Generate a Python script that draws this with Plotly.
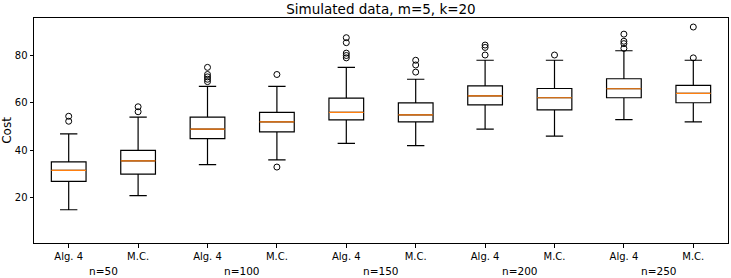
import plotly.graph_objects as go

labels = ["Alg. 4", "M.C."] * 5
groups = ["n=50", "n=100", "n=150", "n=200", "n=250"]
positions = [1, 2, 3, 4, 5, 6, 7, 8, 9, 10]
lower_whisker = [15, 21, 34, 36, 43, 42, 49, 46, 53, 52]
q1 = [27, 30, 45, 47.8, 52.9, 52, 59.2, 57.1, 62.2, 60.1]
median = [31.6, 35.6, 49, 52, 56, 55, 63, 62.2, 66, 64]
q3 = [35.2, 40, 54, 56, 62, 60, 67.2, 66.1, 70.2, 67.4]
upper_whisker = [47, 54, 67, 67, 75, 70, 78, 78, 82, 78]
outliers = [
    [52.3, 54.4],
    [56.3, 58.4],
    [75, 72, 71, 70, 69],
    [72, 33],
    [87.5, 85.4, 81, 80, 79],
    [78, 76, 73],
    [84.4, 83.4, 80.2],
    [80.2],
    [89, 86, 85, 83],
    [92, 79],
]

BOX_W = 0.5
fig = go.Figure()
for i, p in enumerate(positions):
    fig.add_trace(go.Box(
        x=[p], q1=[q1[i]], median=[median[i]], q3=[q3[i]],
        lowerfence=[lower_whisker[i]], upperfence=[upper_whisker[i]],
        width=BOX_W, whiskerwidth=0.5,
        line=dict(color="black", width=1.2),
        fillcolor="rgba(0,0,0,0)", boxpoints=False, showlegend=False,
        hoverinfo="skip",
    ))
    fig.add_trace(go.Scatter(
        x=[p - BOX_W / 2, p + BOX_W / 2], y=[median[i], median[i]],
        mode="lines", line=dict(color="#ff7f0e", width=1.2),
        showlegend=False, hoverinfo="skip",
    ))
    fig.add_trace(go.Scatter(
        x=[p] * len(outliers[i]), y=outliers[i], mode="markers",
        marker=dict(symbol="circle-open", size=6, color="black",
                    line=dict(width=1, color="black")),
        showlegend=False, hoverinfo="skip",
    ))

for j, g in enumerate(groups):
    fig.add_annotation(
        x=(positions[2 * j] + positions[2 * j + 1]) / 2, y=0,
        xref="x", yref="paper", yshift=-28, text=g, showarrow=False,
        font=dict(size=10.5, color="black"), yanchor="middle",
    )

fig.update_layout(
    width=731, height=278,
    margin=dict(l=34, r=3, t=18, b=35, autoexpand=False),
    paper_bgcolor="white", plot_bgcolor="white",
    font=dict(family="DejaVu Sans", color="black"),
    title=dict(text="Simulated data, m=5, k=20", x=0.5, xref="paper",
               xanchor="center", y=0.968, yref="container", yanchor="middle",
               font=dict(size=13.5, color="black")),
    xaxis=dict(range=[0.5, 10.5], tickmode="array", tickvals=positions,
               ticktext=labels, showgrid=False, zeroline=False,
               showline=True, linecolor="black", linewidth=1, mirror=True,
               ticks="outside", ticklen=3.5, tickcolor="black",
               tickfont=dict(size=10), automargin=False),
    yaxis=dict(range=[1, 95.8], tickvals=[20, 40, 60, 80], showgrid=False,
               zeroline=False, showline=True, linecolor="black", linewidth=1,
               mirror=True, ticks="outside", ticklen=3.5, tickcolor="black",
               tickfont=dict(size=10), automargin=False,
               title=dict(text="Cost", font=dict(size=12), standoff=4)),
)

fig.write_html("out.html", config={"displayModeBar": False},
               post_script="document.body.style.margin='0';")
